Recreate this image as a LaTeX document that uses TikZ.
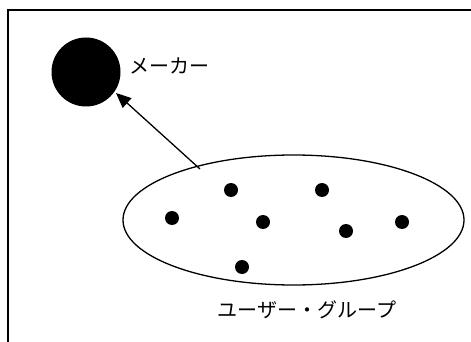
\documentclass[tikz,border=0pt]{standalone}
\usepackage{fontspec}
\newfontfamily\cjk{Noto Sans CJK JP}
\usetikzlibrary{arrows.meta,shapes.geometric}
\begin{document}
\begin{tikzpicture}[x=1pt,y=-1pt,
  dot/.style={circle,fill=black,inner sep=0pt,minimum size=14pt},
  lbl/.style={font=\cjk\fontsize{20}{20}\selectfont,inner sep=0pt}]
\useasboundingbox (0,0) rectangle (471,342);
\draw[line width=1.5pt] (8,342) -- (8,10) -- (471,10);
\node[circle,fill=black,inner sep=0pt,minimum size=69pt] (maker) at (86,72) {};
\node[lbl,anchor=west] (makerlbl) at (129,66) {メーカー};
\node[ellipse,draw,line width=1.3pt,minimum width=341pt,minimum height=130pt,inner sep=0pt] (group) at (293.5,220) {};
\coordinate (start) at (200,169);
\coordinate (tip) at (116,93);
\draw[line width=1.3pt,-{Triangle[length=15pt,width=13pt]}] (start) -- (tip);
\node[dot] (d1) at (172,218) {};
\node[dot] (d2) at (231,190) {};
\node[dot] (d3) at (322,190) {};
\node[dot] (d4) at (263,222) {};
\node[dot] (d5) at (346,231) {};
\node[dot] (d6) at (402,222) {};
\node[dot] (d7) at (242,267) {};
\node[lbl] (grouplbl) at (307,310) {ユーザー・グループ};
\end{tikzpicture}
\end{document}
